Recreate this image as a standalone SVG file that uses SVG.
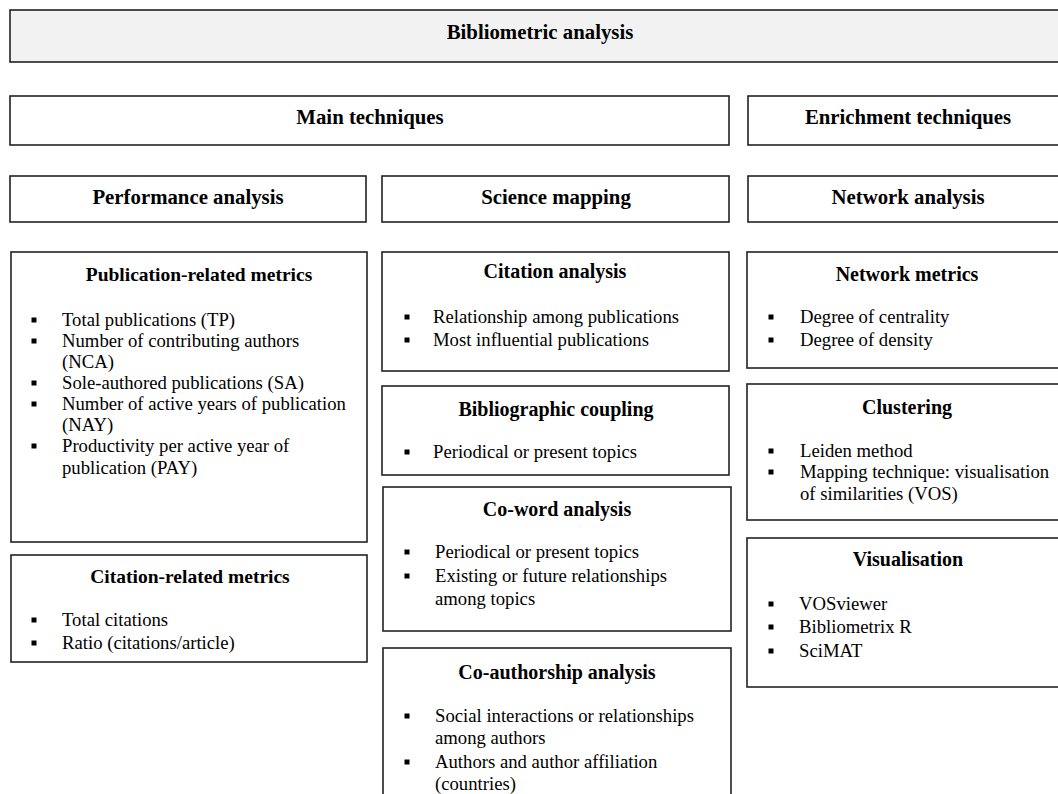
<svg xmlns="http://www.w3.org/2000/svg" width="1058" height="794" viewBox="0 0 1058 794">
<defs>
<style>
.box{fill:#fff;stroke:#222;stroke-width:1.6}
.head{fill:#f2f2f2;stroke:#222;stroke-width:1.6}
.t{font-family:"Liberation Serif","Times New Roman",serif;font-weight:bold;font-size:20px;fill:#000;text-anchor:middle}
.h{font-size:20.8px}
.b{font-family:"Liberation Serif","Times New Roman",serif;font-size:18.7px;fill:#000}
.sq{fill:#000}
</style>
<rect id="bul" class="sq" x="-2.5" y="-2.5" width="5" height="5"/>
</defs>
<rect width="1058" height="794" fill="#fff"/>
<g id="connectors"/>

<g id="bibliometric-analysis">
<rect class="head" x="10" y="10" width="1060" height="52"/>
<text class="t h" x="540" y="39">Bibliometric analysis</text>
</g>

<g id="main-techniques">
<rect class="box" x="10" y="96" width="719" height="49"/>
<text class="t h" x="370" y="124">Main techniques</text>
</g>

<g id="enrichment-techniques">
<rect class="box" x="748" y="96" width="322" height="49"/>
<text class="t h" x="908" y="124">Enrichment techniques</text>
</g>

<g id="performance-analysis">
<rect class="box" x="10" y="176" width="356" height="46"/>
<text class="t h" x="188" y="204">Performance analysis</text>
</g>

<g id="science-mapping">
<rect class="box" x="382" y="176" width="347" height="46"/>
<text class="t h" x="556" y="204">Science mapping</text>
</g>

<g id="network-analysis">
<rect class="box" x="748" y="176" width="322" height="46"/>
<text class="t h" x="908" y="204">Network analysis</text>
</g>

<g id="publication-related-metrics">
<rect class="box" x="11" y="252" width="356" height="290"/>
<text class="t" x="199" y="281" style="font-size:19.5px">Publication-related metrics</text>
<use href="#bul" x="34" y="320"/>
<text class="b" x="62" y="326">Total publications (TP)</text>
<use href="#bul" x="34" y="341"/>
<text class="b" x="62" y="347">Number of contributing authors</text>
<text class="b" x="62" y="368">(NCA)</text>
<use href="#bul" x="34" y="383"/>
<text class="b" x="62" y="389">Sole-authored publications (SA)</text>
<use href="#bul" x="34" y="404"/>
<text class="b" x="62" y="410">Number of active years of publication</text>
<text class="b" x="62" y="431">(NAY)</text>
<use href="#bul" x="34" y="446"/>
<text class="b" x="62" y="452">Productivity per active year of</text>
<text class="b" x="62" y="474">publication (PAY)</text>
</g>

<g id="citation-related-metrics">
<rect class="box" x="11" y="555" width="356" height="107"/>
<text class="t" x="190" y="583" style="font-size:19.5px">Citation-related metrics</text>
<use href="#bul" x="34" y="620"/>
<text class="b" x="62" y="626">Total citations</text>
<use href="#bul" x="34" y="643"/>
<text class="b" x="62" y="649">Ratio (citations/article)</text>
</g>

<g id="citation-analysis">
<rect class="box" x="382" y="252" width="347" height="119"/>
<text class="t" x="555" y="278">Citation analysis</text>
<use href="#bul" x="407" y="317"/>
<text class="b" x="433" y="323">Relationship among publications</text>
<use href="#bul" x="407" y="340"/>
<text class="b" x="433" y="346">Most influential publications</text>
</g>

<g id="bibliographic-coupling">
<rect class="box" x="382" y="386" width="347" height="89"/>
<text class="t" x="556" y="416">Bibliographic coupling</text>
<use href="#bul" x="407" y="452"/>
<text class="b" x="433" y="458">Periodical or present topics</text>
</g>

<g id="co-word-analysis">
<rect class="box" x="383" y="487" width="348" height="144"/>
<text class="t" x="557" y="516">Co-word analysis</text>
<use href="#bul" x="407" y="552"/>
<text class="b" x="435" y="558">Periodical or present topics</text>
<use href="#bul" x="407" y="576"/>
<text class="b" x="435" y="582">Existing or future relationships</text>
<text class="b" x="435" y="605">among topics</text>
</g>

<g id="co-authorship-analysis">
<rect class="box" x="383" y="648" width="348" height="160"/>
<text class="t" x="557" y="679">Co-authorship analysis</text>
<use href="#bul" x="407" y="716"/>
<text class="b" x="435" y="722">Social interactions or relationships</text>
<text class="b" x="435" y="744">among authors</text>
<use href="#bul" x="407" y="762"/>
<text class="b" x="435" y="768">Authors and author affiliation</text>
<text class="b" x="435" y="790">(countries)</text>
</g>

<g id="network-metrics">
<rect class="box" x="747" y="252" width="323" height="116"/>
<text class="t" x="907" y="281">Network metrics</text>
<use href="#bul" x="771" y="317"/>
<text class="b" x="800" y="323">Degree of centrality</text>
<use href="#bul" x="771" y="340"/>
<text class="b" x="800" y="346">Degree of density</text>
</g>

<g id="clustering">
<rect class="box" x="747" y="384" width="323" height="136"/>
<text class="t" x="907" y="414">Clustering</text>
<use href="#bul" x="771" y="451"/>
<text class="b" x="800" y="457">Leiden method</text>
<use href="#bul" x="771" y="472"/>
<text class="b" x="800" y="478">Mapping technique: visualisation</text>
<text class="b" x="800" y="500">of similarities (VOS)</text>
</g>

<g id="visualisation">
<rect class="box" x="747" y="538" width="323" height="149"/>
<text class="t" x="908" y="566">Visualisation</text>
<use href="#bul" x="771" y="604"/>
<text class="b" x="799" y="610">VOSviewer</text>
<use href="#bul" x="771" y="627"/>
<text class="b" x="799" y="633">Bibliometrix R</text>
<use href="#bul" x="771" y="651"/>
<text class="b" x="799" y="657">SciMAT</text>
</g>
</svg>
